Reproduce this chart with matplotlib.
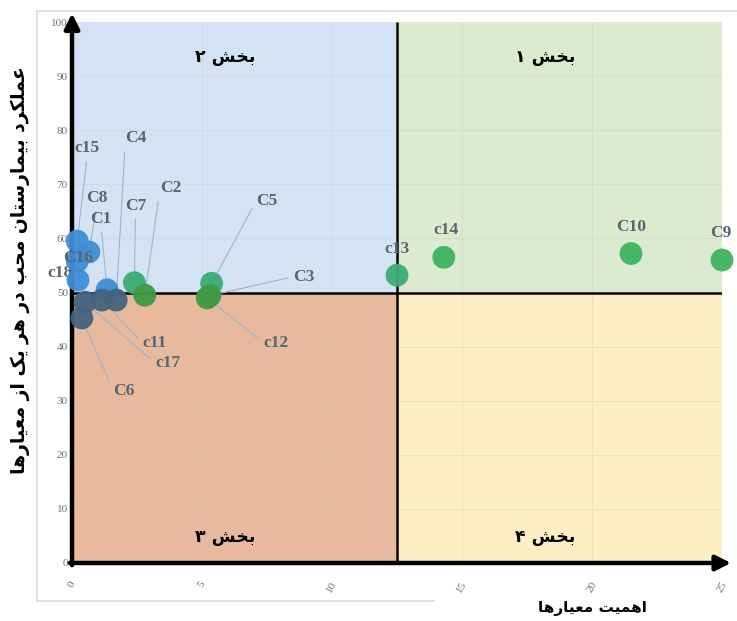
import matplotlib
matplotlib.use("Agg")
import matplotlib.pyplot as plt
from matplotlib.lines import Line2D

# ---------------- data ----------------
names = ["c15", "C8", "C16", "c18", "C1", "c11", "C4", "c17", "C6",
         "C7", "C2", "C5", "C3", "c12", "c13", "c14", "C10", "C9"]
importance = [0.2, 0.65, 0.2, 0.23, 1.35, 1.15, 1.70, 0.5, 0.38,
              2.4, 2.8, 5.37, 5.3, 5.2, 12.5, 14.3, 21.5, 25.0]
performance = [59.5, 57.5, 55.8, 52.3, 50.5, 48.6, 48.6, 48.2, 45.3,
               51.8, 49.5, 51.7, 49.4, 49.0, 53.2, 56.5, 57.2, 56.0]
groups = ["blue", "blue", "blue", "blue", "blue", "slate", "slate", "slate", "slate",
          "teal", "dgreen", "teal", "dgreen", "dgreen", "teal", "green", "green", "green"]

x_ticks = [0, 5, 10, 15, 20, 25]
y_ticks = [0, 10, 20, 30, 40, 50, 60, 70, 80, 90, 100]
x_split = 12.5
y_split = 50

quadrant_titles = ["بخش ۱", "بخش ۲", "بخش ۳", "بخش ۴"]
x_title = "اهمیت معیارها"
y_title = "عملکرد بیمارستان محب در هر یک از معیارها"

# ---------------- styles ----------------
group_colors = {"blue": "#3d8ed6", "slate": "#44637d", "teal": "#3aab78",
                "dgreen": "#3f9a42", "green": "#3db35c"}
quad_colors = {"q1": "#dbebcf", "q2": "#d4e3f3", "q3": "#e8b99c", "q4": "#fcefc4"}

# label offsets in pixels (dx, dy) and the point of the text box where the leader starts
label_offsets = {
    "c15": (10, 93, None), "C8": (8, 54, None), "C16": (1, 3, "none"),
    "c18": (-18, 7, "none"), "C1": (-6, 71, (0.5, 0)), "c11": (53, -43, (0, 0.5)),
    "C4": (20, 162, (0, 0.5)), "c17": (83, -61, (0, 0.5)), "C6": (42, -73, (0, 0.5)),
    "C7": (1, 77, (0.5, 0)), "C2": (26, 107, (0, 0.5)), "C5": (55, 82, (0, 0.5)),
    "C3": (94, 19, (0, 0.5)), "c12": (69, -45, (0, 0.5)), "c13": (0, 26, "none"),
    "c14": (2, 27, "none"), "C10": (0, 27, "none"), "C9": (-1, 27, "none"),
}

# ---------------- minimal Persian shaping ----------------
FORMS = {
    "ا": ("\uFE8D", "\uFE8E", None, None),
    "ب": ("\uFE8F", "\uFE90", "\uFE91", "\uFE92"),
    "ت": ("\uFE95", "\uFE96", "\uFE97", "\uFE98"),
    "ح": ("\uFEA1", "\uFEA2", "\uFEA3", "\uFEA4"),
    "خ": ("\uFEA5", "\uFEA6", "\uFEA7", "\uFEA8"),
    "د": ("\uFEA9", "\uFEAA", None, None),
    "ر": ("\uFEAD", "\uFEAE", None, None),
    "ز": ("\uFEAF", "\uFEB0", None, None),
    "س": ("\uFEB1", "\uFEB2", "\uFEB3", "\uFEB4"),
    "ش": ("\uFEB5", "\uFEB6", "\uFEB7", "\uFEB8"),
    "ع": ("\uFEC9", "\uFECA", "\uFECB", "\uFECC"),
    "ل": ("\uFEDD", "\uFEDE", "\uFEDF", "\uFEE0"),
    "م": ("\uFEE1", "\uFEE2", "\uFEE3", "\uFEE4"),
    "ن": ("\uFEE5", "\uFEE6", "\uFEE7", "\uFEE8"),
    "ه": ("\uFEE9", "\uFEEA", "\uFEEB", "\uFEEC"),
    "ی": ("\uFBFC", "\uFBFD", "\uFBFE", "\uFBFF"),
    "ک": ("\uFB8E", "\uFB8F", "\uFB90", "\uFB91"),
}


def shape(text):
    out = []
    n = len(text)
    for i, ch in enumerate(text):
        if ch not in FORMS:
            out.append(ch)
            continue
        prev = text[i - 1] if i > 0 else ""
        nxt = text[i + 1] if i < n - 1 else ""
        join_prev = prev in FORMS and FORMS[prev][2] is not None
        join_next = FORMS[ch][2] is not None and nxt in FORMS
        iso, fin, ini, med = FORMS[ch]
        if join_prev and join_next:
            out.append(med)
        elif join_prev:
            out.append(fin)
        elif join_next:
            out.append(ini)
        else:
            out.append(iso)
    return "".join(out)[::-1]


FA = ["DejaVu Sans"]

# ---------------- figure ----------------
W, H = 737, 621
fig = plt.figure(figsize=(W / 100, H / 100), dpi=100)
ax = fig.add_axes([72 / W, 1 - 563 / H, 650 / W, 541 / H])
ax.set_xlim(0, 25)
ax.set_ylim(0, 100)
ax.set_facecolor("none")
for s in ax.spines.values():
    s.set_visible(False)

# quadrants
ax.fill_between([x_split, 25], y_split, 100, color=quad_colors["q1"], zorder=0, lw=0)
ax.fill_between([0, x_split], y_split, 100, color=quad_colors["q2"], zorder=0, lw=0)
ax.fill_between([0, x_split], 0, y_split, color=quad_colors["q3"], zorder=0, lw=0)
ax.fill_between([x_split, 25], 0, y_split, color=quad_colors["q4"], zorder=0, lw=0)

# grid
for xt in x_ticks[1:-1]:
    ax.axvline(xt, color="#c8d0c8", lw=0.6, alpha=0.5, zorder=0.5)
for yt in y_ticks[1:-1]:
    ax.axhline(yt, color="#c8d0c8", lw=0.6, alpha=0.5, zorder=0.5)

# split lines
ax.plot([x_split, x_split], [0, 100], color="black", lw=1.8, zorder=2, solid_capstyle="butt")
ax.plot([0, 25], [y_split, y_split], color="black", lw=1.8, zorder=2, solid_capstyle="butt")

# main axes with arrows
ax.annotate("", xy=(25.35, 0), xytext=(-0.08, 0), xycoords="data",
            arrowprops=dict(arrowstyle="-|>,head_length=0.9,head_width=0.45",
                            color="black", lw=3.2, shrinkA=0, shrinkB=0),
            annotation_clip=False, zorder=3)
ax.annotate("", xy=(0, 101.6), xytext=(0, -0.4), xycoords="data",
            arrowprops=dict(arrowstyle="-|>,head_length=0.9,head_width=0.45",
                            color="black", lw=3.2, shrinkA=0, shrinkB=0),
            annotation_clip=False, zorder=3)

# ticks
ax.set_xticks(x_ticks)
ax.set_yticks(y_ticks)
ax.set_xticklabels([str(v) for v in x_ticks], rotation=60, fontsize=8,
                   family="Liberation Serif", color="#707070")
ax.set_yticklabels([str(v) for v in y_ticks], fontsize=8,
                   family="Liberation Serif", color="#707070")
ax.tick_params(axis="x", length=0, pad=12)
ax.tick_params(axis="y", length=0, pad=3)
for lbl in ax.get_xticklabels():
    lbl.set_ha("center")
    lbl.set_va("top")

# points
colors = [group_colors[g] for g in groups]
ax.scatter(importance, performance, s=270, c=colors, zorder=5, clip_on=False,
           edgecolors="none", alpha=0.95)

# labels
for nm, xv, yv in zip(names, importance, performance):
    dx, dy, rel = label_offsets[nm]
    kw = dict(xy=(xv, yv), xytext=(dx, dy), textcoords="offset pixels",
              ha="center", va="center", fontsize=12.5, fontweight="bold",
              family="Liberation Serif", color="#596470",
              annotation_clip=False)
    if rel == "none":
        ax.annotate(nm, zorder=6 if nm == "C16" else 4, **kw)
    else:
        if rel is None:
            rel = (0.5, 0)
        ax.annotate(nm, zorder=4,
                    arrowprops=dict(arrowstyle="-", color="#9fb3c6", lw=0.8,
                                    relpos=rel, shrinkA=2, shrinkB=0), **kw)

# quadrant titles
title_pos = [(18.2, 93.5), (5.9, 93.5), (5.9, 4.8), (18.2, 4.8)]
for t, (tx, ty) in zip(quadrant_titles, title_pos):
    ax.text(tx, ty, shape(t), ha="center", va="center", fontsize=12.5,
            fontweight="bold", family=FA, color="black", zorder=6)

# axis titles
fig.text(592 / W, 1 - 608 / H, shape(x_title), ha="center", va="center",
         fontsize=11, fontweight="bold", family=FA, color="black")
fig.text(20 / W, 1 - 270 / H, shape(y_title), ha="center", va="center",
         rotation=90, fontsize=13.5, fontweight="bold", family=FA, color="black")

# outer light frame
frame_kw = dict(color="#dcdcdc", lw=1.2, transform=None)
fig.add_artist(Line2D([37, 737], [H - 11, H - 11], **frame_kw))
fig.add_artist(Line2D([37, 37], [H - 11, H - 601], **frame_kw))
fig.add_artist(Line2D([37, 434], [H - 601, H - 601], **frame_kw))

fig.savefig("out.png", dpi=100)
